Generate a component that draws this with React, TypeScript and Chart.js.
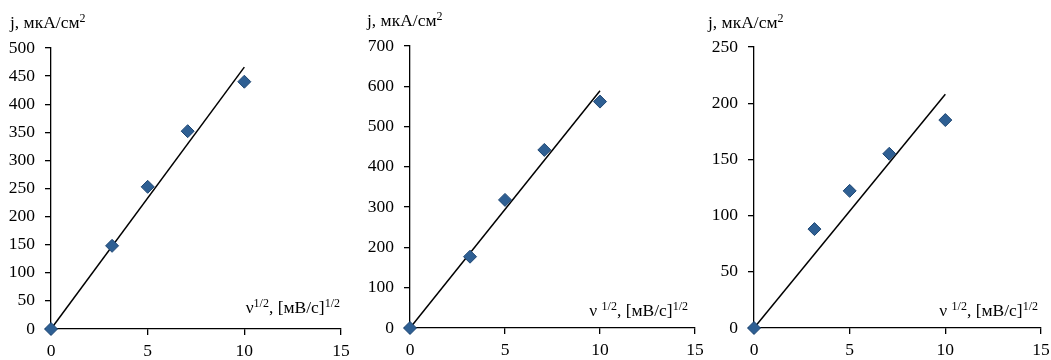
import React, { useEffect, useRef } from "react";
import { Chart, registerables } from "chart.js";

Chart.register(...registerables);

const FONT = "'Liberation Serif', 'Times New Roman', serif";

// ---- data ----
const sqrtScanRate = [0, 3.16, 5, 7.07, 10];
const currentPanel1 = [0, 148, 253, 352, 440];
const currentPanel2 = [0, 177, 318, 442, 562];
const currentPanel3 = [0, 88, 122, 155, 185];

const fitX = [0, 10];
const fitPanel1 = [0, 466];
const fitPanel2 = [0, 589];
const fitPanel3 = [0, 208];

const xMin = 0;
const xMax = 15;
const xStep = 5;
const yMaxes = [500, 700, 250];
const ySteps = [50, 100, 50];

const yTitleParts = [
  { t: "j, мкА/см", sup: false },
  { t: "2", sup: true },
];
const xTitleParts = (space: boolean) => [
  { t: space ? "ν " : "ν", sup: false },
  { t: "1/2", sup: true },
  { t: ", [мВ/с]", sup: false },
  { t: "1/2", sup: true },
];

// ---- layout (positions only) ----
type Layout = {
  left: number;
  width: number;
  areaLeft: number;
  areaRight: number;
  areaTop: number;
  areaBottom: number;
  yTitleX: number;
  yTitleY: number;
  xTitleRight: number;
  xTitleY: number;
  nuSpace: boolean;
};

const layouts: Layout[] = [
  { left: 0, width: 350, areaLeft: 51, areaRight: 341, areaTop: 48, areaBottom: 329, yTitleX: 10, yTitleY: 28, xTitleRight: 340, xTitleY: 313, nuSpace: false },
  { left: 352, width: 353, areaLeft: 410, areaRight: 695, areaTop: 46, areaBottom: 328, yTitleX: 367, yTitleY: 26, xTitleRight: 688, xTitleY: 316, nuSpace: true },
  { left: 705, width: 346, areaLeft: 754, areaRight: 1041, areaTop: 47, areaBottom: 328, yTitleX: 708, yTitleY: 28, xTitleRight: 1038, xTitleY: 316, nuSpace: true },
];

const panelValues = [currentPanel1, currentPanel2, currentPanel3];
const panelFits = [fitPanel1, fitPanel2, fitPanel3];

function drawRich(
  ctx: CanvasRenderingContext2D,
  parts: { t: string; sup: boolean }[],
  x: number,
  y: number,
  align: "left" | "right"
) {
  const base = `17.5px ${FONT}`;
  const small = `12px ${FONT}`;
  let total = 0;
  for (const p of parts) {
    ctx.font = p.sup ? small : base;
    total += ctx.measureText(p.t).width;
  }
  let cx = align === "left" ? x : x - total;
  ctx.save();
  ctx.fillStyle = "#000";
  ctx.textBaseline = "alphabetic";
  ctx.textAlign = "left";
  for (const p of parts) {
    ctx.font = p.sup ? small : base;
    ctx.fillText(p.t, cx, p.sup ? y - 6 : y);
    cx += ctx.measureText(p.t).width;
  }
  ctx.restore();
}

function Panel({ index }: { index: number }) {
  const ref = useRef<HTMLCanvasElement | null>(null);
  const lay = layouts[index];

  useEffect(() => {
    if (!ref.current) return;
    const values = panelValues[index];
    const fit = panelFits[index];
    const localLeft = lay.areaLeft - lay.left;
    const localRight = lay.areaRight - lay.left;

    const titlePlugin = {
      id: "richTitles" + index,
      afterDraw(chart: any) {
        const ctx = chart.ctx as CanvasRenderingContext2D;
        drawRich(ctx, yTitleParts, lay.yTitleX - lay.left, lay.yTitleY, "left");
        drawRich(ctx, xTitleParts(lay.nuSpace), lay.xTitleRight - lay.left, lay.xTitleY, "right");
      },
    };

    const chart = new Chart(ref.current, {
      type: "scatter",
      data: {
        datasets: [
          {
            type: "scatter",
            data: sqrtScanRate.map((x, i) => ({ x, y: values[i] })),
            pointStyle: "rectRot",
            pointRadius: 6.5,
            pointBackgroundColor: "#2E5F93",
            pointBorderColor: "#1F4773",
            pointBorderWidth: 1,
            clip: false,
            order: 0,
          } as any,
          {
            type: "line",
            data: fitX.map((x, i) => ({ x, y: fit[i] })),
            borderColor: "#000",
            borderWidth: 1.5,
            pointRadius: 0,
            fill: false,
            clip: false,
            order: 1,
          } as any,
        ],
      },
      options: {
        animation: false,
        responsive: false,
        devicePixelRatio: 1,
        events: [],
        layout: {
          padding: {
            left: 0,
            top: lay.areaTop,
            right: lay.width - localRight,
            bottom: 0,
          },
        },
        plugins: {
          legend: { display: false },
          tooltip: { enabled: false },
          title: { display: false },
        },
        scales: {
          x: {
            type: "linear",
            min: xMin,
            max: xMax,
            afterFit: (s: any) => {
              s.height = 360 - lay.areaBottom;
              s.paddingLeft = 0;
              s.paddingRight = 0;
            },
            border: { display: true, color: "#000", width: 1.3 },
            grid: { display: true, drawOnChartArea: false, drawTicks: true, tickLength: 6, color: "#000", lineWidth: 1.3 },
            ticks: { stepSize: xStep, color: "#000", padding: 6, font: { family: FONT, size: 17.5 } },
          },
          y: {
            type: "linear",
            min: 0,
            max: yMaxes[index],
            afterFit: (s: any) => {
              s.width = localLeft;
              s.paddingTop = 0;
              s.paddingBottom = 0;
            },
            border: { display: true, color: "#000", width: 1.3 },
            grid: { display: true, drawOnChartArea: false, drawTicks: true, tickLength: 6, color: "#000", lineWidth: 1.3 },
            ticks: { stepSize: ySteps[index], color: "#000", padding: 10, font: { family: FONT, size: 17.5 } },
          },
        },
      } as any,
      plugins: [titlePlugin as any],
    });
    return () => chart.destroy();
  }, [index]);

  return (
    <canvas
      ref={ref}
      width={lay.width}
      height={360}
      style={{ position: "absolute", left: lay.left, top: 0, width: lay.width, height: 360 }}
    />
  );
}

export default function App() {
  return (
    <div style={{ position: "fixed", left: 0, top: 0, width: 1051, height: 360, background: "#fff", overflow: "hidden" }}>
      <Panel index={0} />
      <Panel index={1} />
      <Panel index={2} />
    </div>
  );
}
